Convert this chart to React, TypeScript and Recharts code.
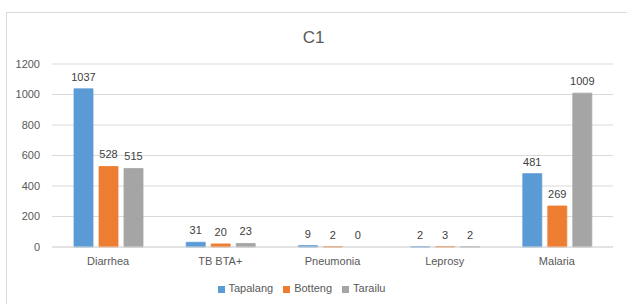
import { BarChart, Bar, XAxis, YAxis, CartesianGrid, Legend, LabelList, Cell } from 'recharts';

const categories = ['Diarrhea', 'TB BTA+', 'Pneumonia', 'Leprosy', 'Malaria'];
const tapalang = [1037, 31, 9, 2, 481];
const botteng = [528, 20, 2, 3, 269];
const tarailu = [515, 23, 0, 2, 1009];
const yTicks = [0, 200, 400, 600, 800, 1000, 1200];

const FONT = '"Liberation Sans", Arial, sans-serif';
const TEXT = '#595959';

const data = categories.map((name, i) => ({
  name,
  Tapalang: tapalang[i],
  Botteng: botteng[i],
  Tarailu: tarailu[i],
}));

const series = [
  { key: 'Tapalang', color: '#5B9BD5', values: tapalang },
  { key: 'Botteng', color: '#ED7D31', values: botteng },
  { key: 'Tarailu', color: '#A5A5A5', values: tarailu },
];

const legendOrder = (item: { value?: string }) => series.findIndex((s) => s.key === item.value);

// zero-height bars get dropped along with their label, keep a sliver so "0" shows
const keepZero = (v: unknown) => (Number(v) === 0 ? 0.2 : 0);

export default function App() {
  return (
    <div style={{ position: 'relative', width: 627, height: 304, background: '#fff', fontFamily: FONT }}>
      <style>{'body{margin:0}'}</style>
      {/* chart frame */}
      <div
        style={{
          position: 'absolute',
          left: 6,
          top: 12,
          width: 621,
          height: 292,
          borderTop: '1px solid #d9d9d9',
          borderLeft: '1px solid #d9d9d9',
        }}
      />
      <div
        style={{
          position: 'absolute',
          top: 28,
          left: 0,
          width: 627,
          textAlign: 'center',
          fontSize: 17,
          color: TEXT,
        }}
      >
        C1
      </div>
      <div style={{ position: 'absolute', left: 0, top: 0 }}>
        <BarChart
          width={627}
          height={304}
          data={data}
          margin={{ top: 64, right: 14, left: 0, bottom: 10 }}
          barGap={6}
          barSize={19}
        >
          <CartesianGrid vertical={false} stroke="#d9d9d9" />
          <XAxis
            dataKey="name"
            axisLine={{ stroke: '#d9d9d9' }}
            tickLine={false}
            tickSize={0}
            tickMargin={10}
            height={35}
            tick={{ fill: TEXT, fontSize: 11, fontFamily: FONT }}
          />
          <YAxis
            domain={[0, 1200]}
            ticks={yTicks}
            axisLine={false}
            tickLine={false}
            tickSize={0}
            tickMargin={12}
            width={52}
            tick={{ fill: TEXT, fontSize: 11, fontFamily: FONT }}
          />
          <Legend
            verticalAlign="bottom"
            iconType="square"
            iconSize={7}
            itemSorter={legendOrder}
            wrapperStyle={{ fontSize: 11, fontFamily: FONT }}
            formatter={(value: string) => <span style={{ color: TEXT }}>{value}</span>}
          />
          {series.map((s) => (
            <Bar
              key={s.key}
              dataKey={s.key}
              fill={s.color}
              minPointSize={keepZero}
              isAnimationActive={false}
            >
              {s.values.map((v, i) => (
                <Cell key={i} fill={v === 0 ? 'none' : s.color} stroke={v === 0 ? 'none' : s.color} strokeWidth={0.8} />
              ))}
              <LabelList
                dataKey={s.key}
                position="top"
                offset={8}
                fill="#404040"
                fontSize={11}
                fontFamily={FONT}
                formatter={(v: unknown) => String(v)}
              />
            </Bar>
          ))}
        </BarChart>
      </div>
    </div>
  );
}
